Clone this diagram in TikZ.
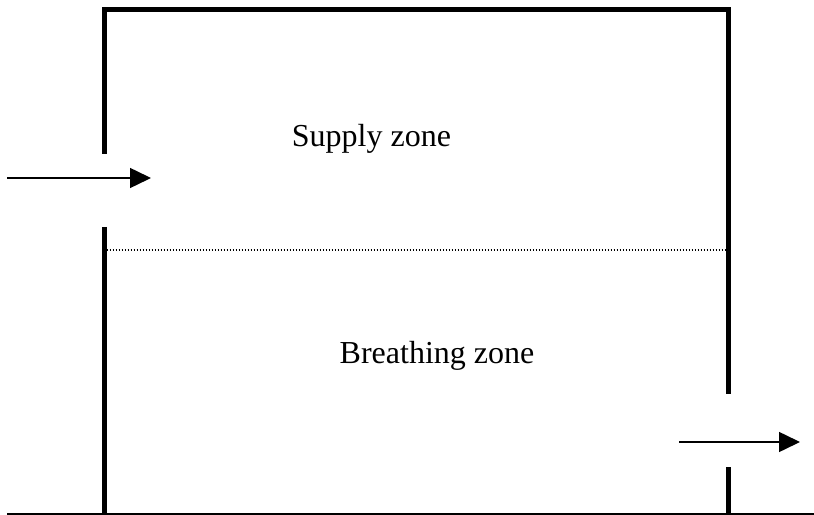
\documentclass[tikz,border=0pt]{standalone}
\usepackage{fontspec}
\setmainfont{Liberation Serif}
\usetikzlibrary{arrows.meta}
\begin{document}
\begin{tikzpicture}[x=1bp,y=-1bp,
  wall/.style={line width=5bp},
  flow/.style={line width=1.5bp,-{Triangle[length=21bp,width=20bp]}},
  zoneline/.style={line width=1.4bp,dash pattern=on 1.3bp off 1.7bp},
  zonetext/.style={font=\fontsize{32bp}{38bp}\selectfont,inner sep=0pt,anchor=base}]
\useasboundingbox (0,0) rectangle (814,515);
% room outline
\coordinate (lb) at (104,515);
\coordinate (lg2) at (104,227);
\coordinate (lg1) at (104,154);
\coordinate (tl) at (104,10);
\coordinate (tr) at (728,10);
\coordinate (rg1) at (728,394);
\coordinate (rg2) at (728,467);
\coordinate (rb) at (728,515);
\draw[wall] (lg1) -- (tl) -- (tr) -- (rg1);
\draw[wall] (lg2) -- (lb);
\draw[wall] (rg2) -- (rb);
% floor
\coordinate (fl) at (7,514);
\coordinate (fr) at (814,514);
\draw[line width=1.2bp] (fl) -- (fr);
% zone boundary
\coordinate (dl) at (106.5,250);
\coordinate (dr) at (725.5,250);
\draw[zoneline] (dl) -- (dr);
% supply and exhaust
\coordinate (in1) at (7,178);
\coordinate (in2) at (151,178);
\coordinate (out1) at (679,442);
\coordinate (out2) at (800,442);
\draw[flow] (in1) -- (in2);
\draw[flow] (out1) -- (out2);
% labels
\node[zonetext] (sz) at (371.5,147) {Supply zone};
\node[zonetext] (bz) at (437,363) {Breathing zone};
\end{tikzpicture}
\end{document}
